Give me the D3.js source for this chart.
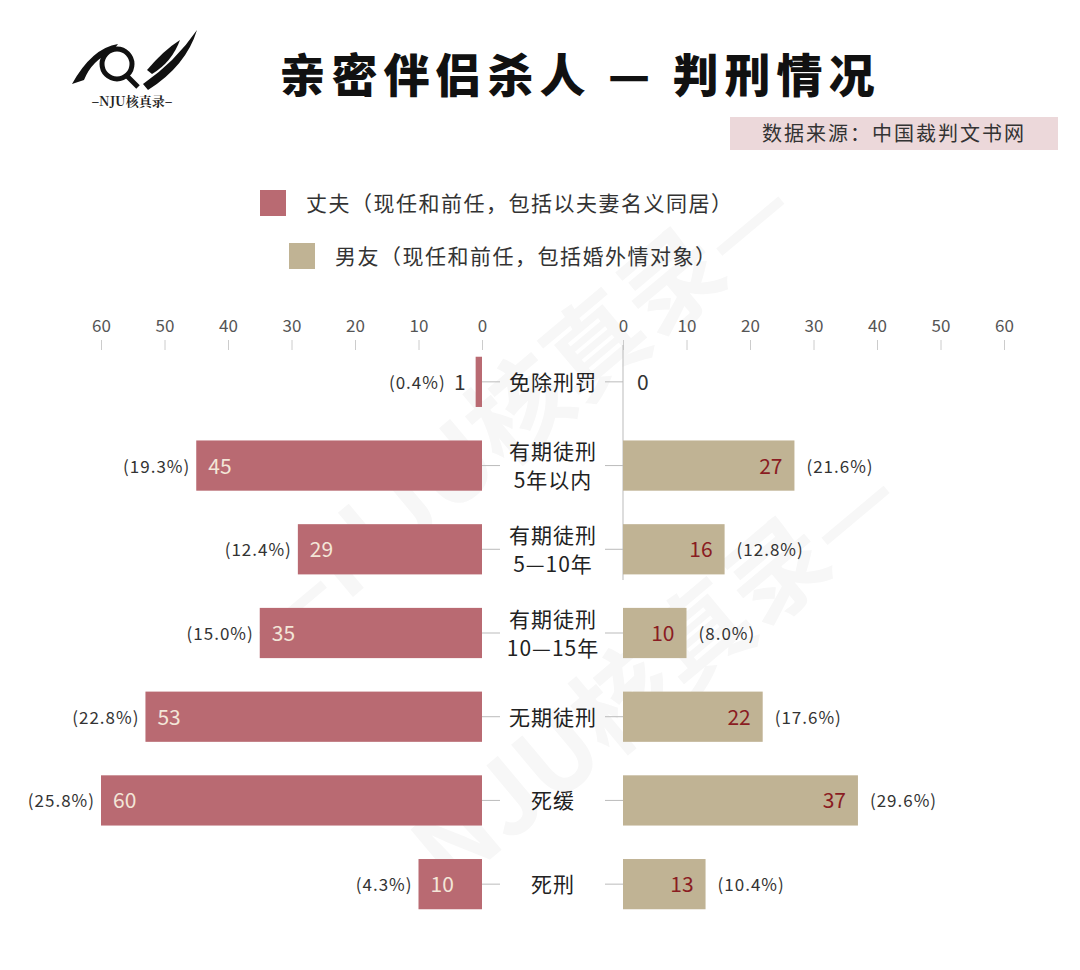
<!DOCTYPE html>
<html><head><meta charset="utf-8">
<script src="https://cdn.jsdelivr.net/npm/d3@7/dist/d3.min.js"></script>
<style>body{margin:0;background:#fff}</style></head>
<body><svg id="c" width="1080" height="970"></svg>
<script>
const categories=[["免除刑罚"],["有期徒刑","5年以内"],["有期徒刑","5—10年"],["有期徒刑","10—15年"],["无期徒刑"],["死缓"],["死刑"]];
const husband=[1,45,29,35,53,60,10];
const husbandPct=["0.4%","19.3%","12.4%","15.0%","22.8%","25.8%","4.3%"];
const boyfriend=[0,27,16,10,22,37,13];
const boyfriendPct=["","21.6%","12.8%","8.0%","17.6%","29.6%","10.4%"];
const ticks=[0,10,20,30,40,50,60];
const C1="#b96a72",C2="#c0b394";
const font="'Noto Sans CJK SC','Noto Sans',sans-serif";
const svg=d3.select("#c");
// watermark
[["—NJU核真录—",540,440,-40],["NJU核真录—",680,700,-40]].forEach(([t,x,y,r])=>
 svg.append("text").attr("transform",`translate(${x},${y}) rotate(${r})`).attr("text-anchor","middle")
 .attr("font-family",font).attr("font-weight","bold").attr("font-size",100).attr("fill","#f7f7f7").text(t));
// logo
svg.append("text").attr("x",132).attr("y",106).attr("text-anchor","middle").attr("font-family","'Noto Serif CJK SC',"+font)
 .attr("font-weight","bold").attr("font-size",13).attr("fill","#222").text("–NJU核真录–");
const lg=svg.append("g");
lg.append("path").attr("d","M72,84 Q92,48 118,44 L112,52 Q92,60 84,80 Z").attr("fill","#111");
lg.append("circle").attr("cx",117).attr("cy",64).attr("r",15).attr("fill","#fff").attr("stroke","#111").attr("stroke-width",5);
lg.append("line").attr("x1",127).attr("y1",76).attr("x2",138).attr("y2",87).attr("stroke","#111").attr("stroke-width",5);
lg.append("path").attr("d","M143,84 Q175,62 197,30 Q186,66 148,90 Z").attr("fill","#111");
lg.append("path").attr("d","M147,70 Q164,50 180,40 Q172,62 152,74 Z").attr("fill","#111");
// title
svg.append("text").attr("x",580).attr("y",92).attr("text-anchor","middle").attr("font-family",font).attr("font-weight","900")
 .attr("font-size",46).attr("letter-spacing",6).attr("fill","#111").text("亲密伴侣杀人 — 判刑情况");
svg.append("rect").attr("x",730).attr("y",117).attr("width",328).attr("height",33).attr("fill","#ecd8da");
svg.append("text").attr("x",894).attr("y",141).attr("text-anchor","middle").attr("font-family",font).attr("font-size",20)
 .attr("letter-spacing",2).attr("fill","#333").text("数据来源：中国裁判文书网");
// legend
[[C1,260,190,"丈夫（现任和前任，包括以夫妻名义同居）"],[C2,289,243,"男友（现任和前任，包括婚外情对象）"]].forEach(([c,x,y,t])=>{
 svg.append("rect").attr("x",x).attr("y",y).attr("width",26).attr("height",26).attr("fill",c);
 svg.append("text").attr("x",x+46).attr("y",y+21).attr("font-family",font).attr("font-size",21).attr("letter-spacing",1.5).attr("fill","#333").text(t);
});
const xL=d3.scaleLinear().domain([0,60]).range([482,101]);
const xR=d3.scaleLinear().domain([0,60]).range([623,1004]);
const y=d3.scaleBand().domain(d3.range(categories.length)).range([340,926]).paddingInner(0.4).paddingOuter(0.2);
const ax=(g)=>{g.select(".domain").remove();g.selectAll("line").attr("stroke","#ccc");
 g.selectAll("text").attr("font-family",font).attr("font-size",17).attr("fill","#555");};
svg.append("g").attr("transform","translate(0,340)").call(d3.axisTop(xL).tickValues(ticks).tickSize(-10).tickPadding(8)).call(ax);
svg.append("g").attr("transform","translate(0,340)").call(d3.axisTop(xR).tickValues(ticks).tickSize(-10).tickPadding(8)).call(ax);
svg.append("line").attr("x1",xR(0)).attr("x2",xR(0)).attr("y1",345).attr("y2",580).attr("stroke","#bbb");
categories.forEach((cat,i)=>{
 const cy=y(i)+y.bandwidth()/2, bh=y.bandwidth();
 svg.append("line").attr("x1",482).attr("x2",500).attr("y1",cy).attr("y2",cy).attr("stroke","#bbb");
 svg.append("line").attr("x1",605).attr("x2",623).attr("y1",cy).attr("y2",cy).attr("stroke","#bbb");
 const t=svg.append("text").attr("text-anchor","middle").attr("font-family",font).attr("font-size",21).attr("fill","#222").attr("letter-spacing",1);
 cat.forEach((s,k)=>t.append("tspan").attr("x",553).attr("y",cy+8+(k-(cat.length-1)/2)*29).text(s));
 const h=husband[i];
 svg.append("rect").attr("x",xL(h)).attr("y",y(i)).attr("width",xL(0)-xL(h)).attr("height",bh).attr("fill",C1);
 const big=h>=5;
 if(big) svg.append("text").attr("x",xL(h)+12).attr("y",cy+8).attr("font-family",font).attr("font-size",21).attr("fill","#f3e6d8").text(h);
 else svg.append("text").attr("x",xL(h)-10).attr("y",cy+8).attr("text-anchor","end").attr("font-family",font).attr("font-size",21).attr("fill","#333").text(h);
 svg.append("text").attr("x",big?xL(h)-6:xL(h)-30).attr("y",cy+7).attr("text-anchor","end").attr("font-family",font).attr("font-size",17).attr("letter-spacing",1).attr("fill","#333").text(`(${husbandPct[i]})`);
 const b=boyfriend[i];
 if(b>0){
  svg.append("rect").attr("x",xR(0)).attr("y",y(i)).attr("width",xR(b)-xR(0)).attr("height",bh).attr("fill",C2);
  svg.append("text").attr("x",xR(b)-12).attr("y",cy+8).attr("text-anchor","end").attr("font-family",font).attr("font-size",21).attr("fill","#8a1c22").text(b);
  svg.append("text").attr("x",xR(b)+12).attr("y",cy+7).attr("font-family",font).attr("font-size",17).attr("letter-spacing",1).attr("fill","#333").text(`(${boyfriendPct[i]})`);
 } else svg.append("text").attr("x",xR(0)+14).attr("y",cy+8).attr("font-family",font).attr("font-size",21).attr("fill","#333").text(b);
});
</script></body></html>
